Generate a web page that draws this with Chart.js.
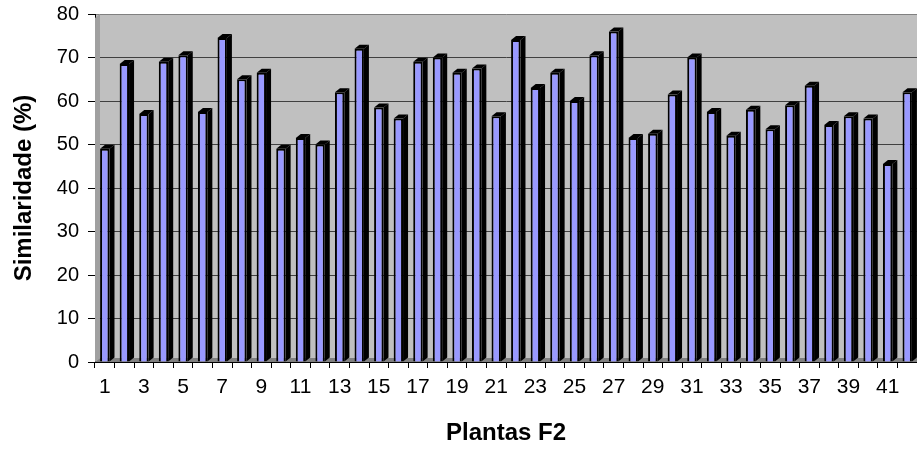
<!DOCTYPE html>
<html><head><meta charset="utf-8">
<script src="https://cdn.jsdelivr.net/npm/chart.js@4"></script>
<style>html,body{margin:0;padding:0;background:#fff}#wrap{width:917px;height:452px}</style>
</head><body><div id="wrap"><canvas id="c" width="917" height="452"></canvas></div>
<script>
const categories = Array.from({length:42},(_,i)=>String(i+1));
const similaridade = [49,68.5,57,69,70.5,57.5,74.5,65,66.5,49,51.5,50,62,72,58.5,56,69,70,66.5,67.5,56.5,74,63,66.5,60,70.5,76,51.5,52.5,61.5,70,57.5,52,58,53.5,59,63.5,54.5,56.5,56,45.5,62];
const yTicks = [0,10,20,30,40,50,60,70,80];
const DX = 5, DY = 4;
const FONT = 'Liberation Sans, Arial, sans-serif';

const bg3d = {
  id:'bg3d',
  beforeDatasetsDraw(chart){
    const {ctx, chartArea:a} = chart;
    ctx.save();
    ctx.fillStyle='#808080';
    ctx.beginPath();
    ctx.moveTo(a.left,a.bottom);ctx.lineTo(a.left+DX,a.bottom-DY);
    ctx.lineTo(a.right,a.bottom-DY);ctx.lineTo(a.right,a.bottom);ctx.closePath();ctx.fill();
    ctx.fillStyle='#a0a0a0';
    ctx.beginPath();
    ctx.moveTo(a.left,a.bottom);ctx.lineTo(a.left+DX,a.bottom-DY);
    ctx.lineTo(a.left+DX,a.top);ctx.lineTo(a.left,a.top+DY);ctx.closePath();ctx.fill();
    ctx.restore();
  },
  beforeDraw(chart){
    const {ctx, chartArea:a} = chart;
    ctx.save();
    ctx.fillStyle='#c0c0c0';
    ctx.fillRect(a.left,a.top,a.right-a.left,a.bottom-a.top);
    ctx.restore();
  },
  afterDatasetsDraw(chart){
    const {ctx} = chart;
    const meta = chart.getDatasetMeta(0);
    ctx.save();
    ctx.fillStyle='#000';
    meta.data.forEach(el=>{
      const p = el.getProps(['x','y','base','width'],true);
      const l = p.x-p.width/2, r = p.x+p.width/2;
      ctx.beginPath();
      ctx.moveTo(r,p.base);ctx.lineTo(r,p.y);ctx.lineTo(r+DX,p.y-DY);
      ctx.lineTo(r+DX,p.base-DY);ctx.closePath();ctx.fill();
      ctx.beginPath();
      ctx.moveTo(l,p.y);ctx.lineTo(l+DX,p.y-DY);ctx.lineTo(r+DX,p.y-DY);
      ctx.lineTo(r,p.y);ctx.closePath();ctx.fill();
    });
    ctx.restore();
  }
};

new Chart(document.getElementById('c'),{
  type:'bar',
  data:{labels:categories,datasets:[{data:similaridade,backgroundColor:'#9999ff',borderColor:'#000',borderWidth:2,barPercentage:0.96,categoryPercentage:0.5}]},
  options:{
    responsive:false,animation:false,
    layout:{padding:{top:14,right:0,left:0,bottom:0}},
    plugins:{legend:{display:false},tooltip:{enabled:false}},
    scales:{
      x:{
        offset:true,
        grid:{offset:true,drawOnChartArea:false,color:'#000',tickLength:6},
        border:{color:'#000',width:1},
        ticks:{autoSkip:false,maxRotation:0,color:'#000',font:{family:FONT,size:21},padding:7,
          callback:(v,i)=> i%2===0 ? categories[i] : ''},
        title:{display:true,text:'Plantas F2',color:'#000',font:{family:FONT,size:24,weight:'bold'},padding:{top:0,bottom:4}},
        afterFit(s){s.height=90;s.paddingLeft=0;s.paddingRight=0;}
      },
      y:{
        min:0,max:80,
        afterBuildTicks(s){s.ticks=yTicks.map(v=>({value:v}));},
        grid:{color:(c)=> c.tick && c.tick.value===80 ? '#808080' : '#404040',tickLength:7,tickColor:'#000'},
        border:{color:'#000',width:1},
        ticks:{color:'#000',font:{family:FONT,size:20},padding:9},
        title:{display:true,text:'Similaridade (%)',color:'#000',font:{family:FONT,size:24,weight:'bold'},padding:{top:10,bottom:0}},
        afterFit(s){s.width=95;s.paddingTop=0;s.paddingBottom=0;}
      }
    }
  },
  plugins:[bg3d]
});
</script></body></html>
